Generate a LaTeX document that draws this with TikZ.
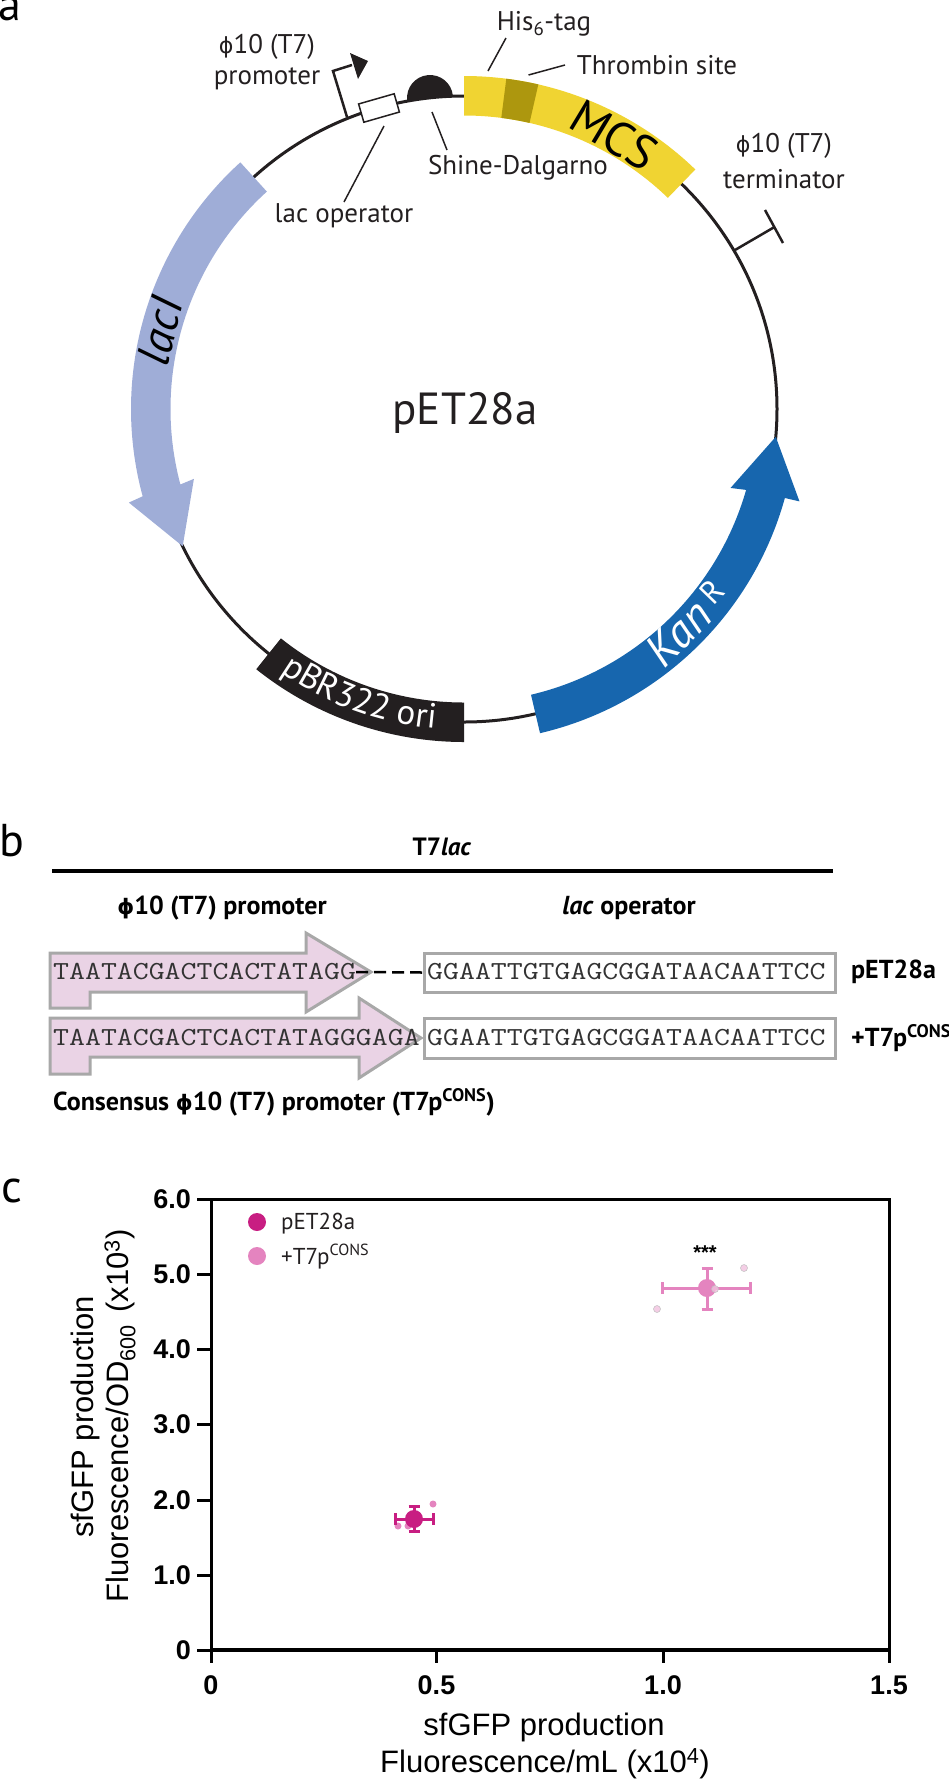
\documentclass[tikz,border=0pt]{standalone}
\usepackage{fontspec}
\usepackage{graphicx}
\setmainfont{PT Sans}
\newfontfamily\plotfont{Liberation Sans}
\newfontfamily\phifont{DejaVu Sans}
\usetikzlibrary{decorations.text}

\definecolor{ringblack}{HTML}{231F20}
\definecolor{mcsyellow}{HTML}{F0D432}
\definecolor{thrombin}{HTML}{AD970E}
\definecolor{lacblue}{HTML}{9FADD7}
\definecolor{kanblue}{HTML}{1766AE}
\definecolor{t7pink}{HTML}{EAD3E5}
\definecolor{boxgray}{HTML}{A8A8A8}
\definecolor{seqgray}{HTML}{333333}
\definecolor{wtmagenta}{HTML}{C81E82}
\definecolor{consmagenta}{HTML}{E484BF}

\newcommand{\phisym}{{\phifont\fontsize{.82em}{1em}\selectfont ϕ}}
\newcommand{\seqtxt}[1]{\scalebox{1.19}[1]{#1}}
% ring segment between two angles on the plasmid
\newcommand{\ringband}[3]{%
  \fill[#3] (#1:333pt) arc[start angle=#1,end angle=#2,radius=333pt]
    -- (#2:293.5pt) arc[start angle=#2,end angle=#1,radius=293.5pt] -- cycle;}

\tikzset{
  lbl/.style={font=\fontsize{27}{30}\selectfont,text=ringblack,inner sep=0pt},
  boldlbl/.style={font=\fontsize{26}{30}\selectfont\bfseries,text=black,inner sep=0pt},
  panel/.style={font=\fontsize{46}{48}\selectfont,text=black,inner sep=0pt},
  leader/.style={draw=ringblack,line width=1.5pt},
  seq/.style={font=\ttfamily\fontsize{26}{30}\selectfont,text=seqgray,inner sep=0pt,anchor=west},
  seqbox/.style={draw=boxgray,line width=3pt,fill=white},
  t7arrow/.style={draw=boxgray,line width=3pt,fill=t7pink},
  ticknum/.style={font=\plotfont\bfseries\fontsize{27}{30}\selectfont,inner sep=0pt},
  axistitle/.style={font=\plotfont\fontsize{31}{34}\selectfont,inner sep=0pt},
  tick/.style={line width=3pt},
  bigdot/.style={circle,inner sep=0pt,minimum size=#1},
  wterr/.style={draw=wtmagenta,line width=3pt},
  conserr/.style={draw=consmagenta,line width=3pt},
}

\begin{document}
\begin{tikzpicture}[x=1pt,y=-1pt]
  \useasboundingbox (0,0) rectangle (949,1781);
  \coordinate (center) at (464,409);

  \node[panel] (panelA) at (10,9) {a};
  \node[panel] (panelB) at (12,841) {b};
  \node[panel] (panelC) at (12,1191) {c};

  % plasmid ring with its genes
  \draw[ringblack,line width=3pt] (center) circle[radius=313pt];
  \begin{scope}[shift={(center)}]
    \ringband{90}{46}{mcsyellow}
    \ringband{82.7}{77.1}{thrombin}
    \ringband{231.4}{270}{ringblack}
    \fill[lacblue] (132.2:333pt) arc[start angle=132.2,end angle=195.2,radius=333pt]
      -- (195.6:348pt) -- (206:313pt) -- (194.5:279pt) -- (194.9:293.5pt)
      arc[start angle=194.9,end angle=132.2,radius=293.5pt] -- cycle;
    \fill[kanblue] (-76.8:333pt) arc[start angle=-76.8,end angle=-15.5,radius=333pt]
      -- (-15.4:348pt) -- (-5.1:313pt) -- (-16.5:278pt) -- (-16:293.5pt)
      arc[start angle=-16,end angle=-76.8,radius=293.5pt] -- cycle;
    \path[decorate,decoration={text along path,text color=white,text align=center,
        text={|\fontsize{35}{37}\selectfont|pBR322 ori}}]
      (232:321pt) arc[start angle=232,end angle=268,radius=321pt];
  \end{scope}

  % promoter, operator and Shine-Dalgarno marks on the ring
  \coordinate (promBase) at (347,117);
  \coordinate (promKnee) at (333,71);
  \coordinate (promEnd) at (352,65);
  \draw[ringblack,line width=2.5pt] (promBase) -- (promKnee) -- (promEnd);
  \fill[ringblack] (368,61) -- (350,53) -- (358,79) -- cycle;
  \fill[ringblack,shift={(430,98)},rotate=6] (23pt,0pt) arc[start angle=0,end angle=180,radius=23pt] -- cycle;
  \node[draw=ringblack,line width=1.5pt,fill=white,minimum width=37pt,minimum height=19pt,inner sep=0pt,rotate=16] (lacBox) at (379,108) {};
  \coordinate (termBase) at (735,250);
  \coordinate (termTop) at (774.5,227);
  \coordinate (barA) at (765,210);
  \coordinate (barB) at (783,243);
  \draw[ringblack,line width=2.5pt] (termBase) -- (termTop);
  \draw[ringblack,line width=2.5pt] (barA) -- (barB);

  \node[lbl] (promLbl) at (267,47) {\phisym10 (T7)};
  \node[lbl] (promLblB) at (267,79) {promoter};
  \node[lbl] (hisLbl) at (544,24) {His\textsubscript{6}-tag};
  \node[lbl] (thrombinLbl) at (657,65) {Thrombin site};
  \node[lbl] (termLbl) at (784,146) {\phisym10 (T7)};
  \node[lbl] (termLblB) at (784,179) {terminator};
  \node[lbl] (opLbl) at (344,216) {lac operator};
  \node[lbl] (sdLbl) at (518,168) {Shine-Dalgarno};
  \node[lbl,font=\fontsize{45}{47}\selectfont] (plasmidLbl) at (465,413) {pET28a};
  \node[lbl,font=\fontsize{46}{48}\selectfont\itshape,text=black,rotate=76] (lacILbl) at (160,331) {lacI};
  \node[lbl,font=\fontsize{48}{50}\selectfont,text=black,rotate=-31] (mcsLbl) at (614,135) {MCS};
  \node[lbl,font=\fontsize{46}{48}\selectfont\itshape,text=white,rotate=46] (kanLbl) at (688,623) {Kan\,{\upshape\textsuperscript{R}}};

  \coordinate (hisA) at (506,38);
  \coordinate (hisB) at (488,71);
  \coordinate (thrA) at (565,65);
  \coordinate (thrB) at (528.5,75);
  \coordinate (opA) at (384,126);
  \coordinate (opB) at (344,202);
  \coordinate (sdA) at (432,112);
  \coordinate (sdB) at (447,150);
  \draw[leader] (hisA) -- (hisB);
  \draw[leader] (thrA) -- (thrB);
  \draw[leader] (opA) -- (opB);
  \draw[leader] (sdA) -- (sdB);

  % promoter and operator sequences
  \node[boldlbl,font=\fontsize{25}{28}\selectfont\bfseries] (t7lacLbl) at (442,847) {T7\textit{lac}};
  \coordinate (ruleA) at (52,871);
  \coordinate (ruleB) at (833,871);
  \draw[black,line width=3.5pt] (ruleA) -- (ruleB);
  \node[boldlbl] (phiHead) at (222,908) {\phisym10 (T7) promoter};
  \node[boldlbl] (lacHead) at (629,908) {\textit{lac} operator};

  \draw[t7arrow] (50,953) -- (306,953) -- (306,933) -- (371,972) -- (306,1012) -- (306,992)
    -- (90,992) -- (90,1008) -- (50,1008) -- cycle;
  \draw[t7arrow] (50,1018) -- (359,1018) -- (359,998) -- (421,1038) -- (359,1078) -- (359,1057)
    -- (90,1057) -- (90,1074) -- (50,1074) -- cycle;
  \node[seqbox,minimum width=411pt,minimum height=39pt,inner sep=0pt] (boxTop) at (629.5,972.5) {};
  \node[seqbox,minimum width=411pt,minimum height=40pt,inner sep=0pt] (boxBot) at (629.5,1038) {};
  \node[seq] (seqTop) at (53,972) {\seqtxt{TAATACGACTCACTATAGG}};
  \node[seq] (seqBot) at (53,1038) {\seqtxt{TAATACGACTCACTATAGGGAGA}};
  \node[seq] (opTop) at (427,972) {\seqtxt{GGAATTGTGAGCGGATAACAATTCC}};
  \node[seq] (opBot) at (427,1038) {\seqtxt{GGAATTGTGAGCGGATAACAATTCC}};
  \draw[black,line width=2.5pt,dash pattern=on 12pt off 6pt] (seqTop.east) -- (boxTop.west);
  \node[boldlbl,anchor=west] (wtLbl) at (851,972) {pET28a};
  \node[boldlbl,anchor=west] (consLbl) at (851,1038) {+T7p\textsuperscript{CONS}};
  \node[boldlbl,anchor=west] (consCap) at (53,1102) {Consensus \phisym10 (T7) promoter (T7p\textsuperscript{CONS})};

  % scatter plot axes
  \coordinate (origin) at (211,1650);
  \coordinate (topLeft) at (211,1199);
  \coordinate (topRight) at (889,1199);
  \coordinate (botRight) at (889,1650);
  \draw[black,line width=3pt] (origin) -- (topLeft) -- (topRight) -- (botRight);
  \draw[black,line width=4.5pt] (origin) -- (botRight);
  \foreach \lab/\ypos in {0/1650,1.0/1575,2.0/1500,3.0/1424.6,4.0/1349.6,5.0/1274,6.0/1199}{
    \draw[tick] (197,\ypos) -- (211,\ypos);
    \node[ticknum,anchor=east] (y\lab) at (191,\ypos) {\lab};
  }
  \foreach \lab/\xpos in {0/211,0.5/436.5,1.0/663,1.5/889}{
    \draw[tick] (\xpos,1650) -- (\xpos,1663);
    \node[ticknum] (x\lab) at (\xpos,1685) {\lab};
  }
  \node[axistitle] (xTitleA) at (544,1727) {sfGFP production};
  \node[axistitle] (xTitleB) at (545,1764) {Fluorescence/mL (x10\textsuperscript{4})};
  \node[axistitle,rotate=90] (yTitleA) at (85,1417) {sfGFP production};
  \node[axistitle,rotate=90] (yTitleB) at (120,1416) {Fluorescence/OD\textsubscript{600}\hspace{.1em} (x10\textsuperscript{3})};

  % legend
  \node[bigdot=18pt,fill=wtmagenta] (legWt) at (257,1222) {};
  \node[bigdot=18pt,fill=consmagenta] (legCons) at (257,1256) {};
  \node[lbl,font=\fontsize{23}{26}\selectfont,anchor=west] (legWtLbl) at (281,1224) {pET28a};
  \node[lbl,font=\fontsize{23}{26}\selectfont,anchor=west] (legConsLbl) at (281,1257) {+T7p\textsuperscript{CONS}};

  % replicates, then means with error bars
  \foreach \rx/\ry in {433/1504,398/1526,408/1526}{
    \fill[consmagenta] (\rx,\ry) circle[radius=3.5pt];
  }
  \draw[wterr] (395,1519) -- (433,1519);
  \draw[wterr] (395,1513) -- (395,1525);
  \draw[wterr] (433,1513) -- (433,1525);
  \draw[wterr] (414,1506) -- (414,1531);
  \draw[wterr] (408.5,1506) -- (419.5,1506);
  \draw[wterr] (408.5,1531) -- (419.5,1531);
  \node[bigdot=18pt,fill=wtmagenta] (wtMean) at (414,1519) {};

  \draw[conserr] (662,1288) -- (750,1288);
  \draw[conserr] (662,1282) -- (662,1294);
  \draw[conserr] (750,1282) -- (750,1294);
  \draw[conserr] (707,1268) -- (707,1309);
  \draw[conserr] (701.5,1268) -- (712.5,1268);
  \draw[conserr] (701.5,1309) -- (712.5,1309);
  \node[bigdot=18pt,fill=consmagenta] (consMean) at (707,1288) {};
  \foreach \rx/\ry in {744/1268,657/1309,715/1289}{
    \fill[consmagenta!50,draw=black!25,line width=.5pt,fill opacity=.8] (\rx,\ry) circle[radius=3.5pt];
  }
  \node[font=\plotfont\bfseries\fontsize{20}{22}\selectfont,inner sep=0pt] (signif) at (705,1253) {***};
\end{tikzpicture}
\end{document}
